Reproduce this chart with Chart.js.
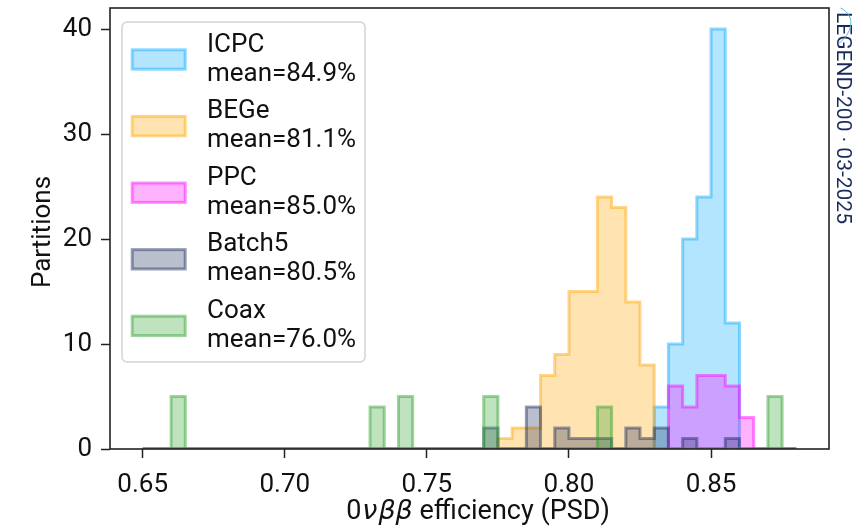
<!DOCTYPE html>
<html>
<head>
<meta charset="utf-8">
<script src="https://cdn.jsdelivr.net/npm/chart.js@4.4.1/dist/chart.umd.min.js"></script>
<style>
  html, body { margin: 0; padding: 0; background: #fff; }
  canvas { display: block; }
</style>
</head>
<body>
<canvas id="effChart" width="866" height="531"></canvas>
<script>
// Histogram bin edges (0vbb PSD efficiency)
const binEdges = [
  0.650, 0.655, 0.660, 0.665, 0.670, 0.675, 0.680, 0.685, 0.690, 0.695,
  0.700, 0.705, 0.710, 0.715, 0.720, 0.725, 0.730, 0.735, 0.740, 0.745,
  0.750, 0.755, 0.760, 0.765, 0.770, 0.775, 0.780, 0.785, 0.790, 0.795,
  0.800, 0.805, 0.810, 0.815, 0.820, 0.825, 0.830, 0.835, 0.840, 0.845,
  0.850, 0.855, 0.860, 0.865, 0.870, 0.875, 0.880,
];

const detectorTypes = ["ICPC", "BEGe", "PPC", "Batch5", "Coax"];
const meanEfficiency = ["84.9", "81.1", "85.0", "80.5", "76.0"];

// Partitions per bin (46 bins)
const icpcCounts = [
  0, 0, 0, 0, 0, 0, 0, 0, 0, 0,
  0, 0, 0, 0, 0, 0, 0, 0, 0, 0,
  0, 0, 0, 0, 0, 0, 0, 0, 0, 0,
  0, 0, 0, 0, 0, 0, 4, 10, 20, 24,
  40, 12, 0, 0, 0, 0,
];
const begeCounts = [
  0, 0, 0, 0, 0, 0, 0, 0, 0, 0,
  0, 0, 0, 0, 0, 0, 0, 0, 0, 0,
  0, 0, 0, 0, 0, 1, 2, 2, 7, 9,
  15, 15, 24, 23, 14, 8, 0, 0, 0, 0,
  0, 0, 0, 0, 0, 0,
];
const ppcCounts = [
  0, 0, 0, 0, 0, 0, 0, 0, 0, 0,
  0, 0, 0, 0, 0, 0, 0, 0, 0, 0,
  0, 0, 0, 0, 0, 0, 0, 0, 0, 0,
  0, 0, 0, 0, 0, 0, 0, 6, 4, 7,
  7, 6, 3, 0, 0, 0,
];
const batch5Counts = [
  0, 0, 0, 0, 0, 0, 0, 0, 0, 0,
  0, 0, 0, 0, 0, 0, 0, 0, 0, 0,
  0, 0, 0, 0, 2, 0, 0, 4, 0, 2,
  1, 1, 1, 0, 2, 1, 2, 0, 1, 0,
  0, 1, 0, 0, 0, 0,
];
const coaxCounts = [
  0, 0, 5, 0, 0, 0, 0, 0, 0, 0,
  0, 0, 0, 0, 0, 0, 4, 0, 5, 0,
  0, 0, 0, 0, 5, 0, 0, 0, 0, 0,
  0, 0, 4, 0, 0, 0, 0, 0, 0, 0,
  0, 0, 0, 0, 5, 0,
];

const xTicks = [0.65, 0.7, 0.75, 0.8, 0.85];
const yTicks = [0, 10, 20, 30, 40];

const seriesCounts = [icpcCounts, begeCounts, ppcCounts, batch5Counts, coaxCounts];
const seriesColors = ["#07a9ff", "#ffa500", "#ff00ff", "#1a2a5b", "#2ca02c"];

const FONT = "Roboto";
const TEXT_COLOR = "#111";

const rgba = (hex, a) => {
  const n = parseInt(hex.slice(1), 16);
  return `rgba(${(n >> 16) & 255}, ${(n >> 8) & 255}, ${n & 255}, ${a})`;
};

// Turn bin counts into a closed step outline
const stepPoints = (counts) => {
  const pts = [{ x: binEdges[0], y: 0 }];
  counts.forEach((c, i) => pts.push({ x: binEdges[i], y: c }));
  pts.push({ x: binEdges[counts.length], y: 0 });
  return pts;
};

const datasets = detectorTypes.map((name, i) => ({
  label: name,
  data: stepPoints(seriesCounts[i]),
  stepped: true,
  fill: "origin",
  backgroundColor: rgba(seriesColors[i], 0.3),
  borderColor: rgba(seriesColors[i], 0.45),
  borderWidth: 3,
  borderJoinStyle: "miter",
  pointRadius: 0,
  pointHoverRadius: 0,
  order: detectorTypes.length - i, // later series drawn on top
}));

// Box around the plot area
const framePlugin = {
  id: "frame",
  afterDatasetsDraw(chart) {
    const { ctx, chartArea: a } = chart;
    ctx.save();
    ctx.strokeStyle = "#222";
    ctx.lineWidth = 1.6;
    ctx.strokeRect(a.left, a.top, a.right - a.left, a.bottom - a.top);
    ctx.restore();
  },
};

// Legend box with two-line labels
const legendPlugin = {
  id: "boxLegend",
  afterDraw(chart) {
    const { ctx } = chart;
    ctx.save();
    ctx.beginPath();
    ctx.roundRect(122, 22, 243, 340, 5);
    ctx.fillStyle = "rgba(255,255,255,0.8)";
    ctx.fill();
    ctx.strokeStyle = "#d4d4d4";
    ctx.lineWidth = 1.5;
    ctx.stroke();

    chart.data.datasets.forEach((ds, i) => {
      const cy = 59.5 + i * 66.6;
      ctx.fillStyle = ds.backgroundColor;
      ctx.fillRect(132.2, cy - 9.7, 53, 19.4);
      ctx.strokeStyle = ds.borderColor;
      ctx.lineWidth = 3;
      ctx.strokeRect(132.2, cy - 9.7, 53, 19.4);

      ctx.fillStyle = TEXT_COLOR;
      ctx.font = `26px ${FONT}`;
      ctx.textAlign = "left";
      ctx.textBaseline = "alphabetic";
      ctx.fillText(ds.label, 207, cy - 8);
      ctx.fillText(`mean=${meanEfficiency[i]}%`, 207, cy + 21);
    });
    ctx.restore();
  },
};

// Axis titles and the side stamp
const textPlugin = {
  id: "axisText",
  afterDraw(chart) {
    const { ctx } = chart;
    ctx.save();
    ctx.fillStyle = TEXT_COLOR;
    ctx.textBaseline = "alphabetic";

    // y title
    ctx.save();
    ctx.translate(50, 232);
    ctx.rotate(-Math.PI / 2);
    ctx.font = `26px ${FONT}`;
    ctx.textAlign = "center";
    ctx.fillText("Partitions", 0, 0);
    ctx.restore();

    // x title with italic greek letters
    const parts = [
      { t: "0", f: `27px ${FONT}`, gap: 1 },
      { t: "ν", f: `italic 27px "DejaVu Sans"`, gap: 1 },
      { t: "ββ", f: `italic 27px "DejaVu Sans"`, gap: 0 },
      { t: " efficiency (PSD)", f: `27px ${FONT}`, gap: 0 },
    ];
    let total = 0;
    parts.forEach((p) => {
      ctx.font = p.f;
      p.w = ctx.measureText(p.t).width + p.gap;
      total += p.w;
    });
    let x = 478 - total / 2;
    ctx.textAlign = "left";
    parts.forEach((p) => {
      ctx.font = p.f;
      ctx.fillText(p.t, x, 519);
      x += p.w;
    });

    // rotated stamp on the right
    ctx.save();
    ctx.translate(837, 12);
    ctx.rotate(Math.PI / 2);
    ctx.font = `21px ${FONT}`;
    ctx.fillStyle = "#1a2a5b";
    ctx.textAlign = "left";
    ctx.fillText("LEGEND-200 · 03-2025", 0, 0);
    ctx.restore();

    ctx.beginPath();
    ctx.moveTo(840.5, 8);
    ctx.bezierCurveTo(857, 16, 852, 34, 838, 44);
    ctx.strokeStyle = "#5bb5e5";
    ctx.lineWidth = 1;
    ctx.stroke();
    ctx.restore();
  },
};

const tickGrid = {
  drawOnChartArea: false,
  drawTicks: true,
  tickLength: 9,
  tickWidth: 1.5,
  tickColor: "#222",
};

new Chart(document.getElementById("effChart").getContext("2d"), {
  type: "line",
  data: { datasets },
  options: {
    responsive: false,
    animation: false,
    devicePixelRatio: 1,
    layout: { padding: { left: 0, top: 8, right: 37, bottom: 0 } },
    plugins: {
      legend: { display: false },
      tooltip: { enabled: false },
    },
    scales: {
      x: {
        type: "linear",
        min: 0.6385,
        max: 0.8915,
        grid: tickGrid,
        border: { display: false },
        ticks: {
          padding: 12,
          color: TEXT_COLOR,
          font: { family: FONT, size: 26 },
          callback: (v) => v.toFixed(2),
        },
        afterBuildTicks: (scale) => {
          scale.ticks = xTicks.map((v) => ({ value: v }));
        },
        afterFit: (scale) => {
          scale.height = 82;
          scale.paddingLeft = 0;
          scale.paddingRight = 0;
        },
      },
      y: {
        min: 0,
        max: 42,
        grid: tickGrid,
        border: { display: false },
        ticks: {
          padding: 9,
          color: TEXT_COLOR,
          font: { family: FONT, size: 26 },
        },
        afterBuildTicks: (scale) => {
          scale.ticks = yTicks.map((v) => ({ value: v }));
        },
        afterFit: (scale) => {
          scale.width = 110;
          scale.paddingTop = 0;
          scale.paddingBottom = 0;
        },
      },
    },
  },
  plugins: [framePlugin, legendPlugin, textPlugin],
});
</script>
</body>
</html>
